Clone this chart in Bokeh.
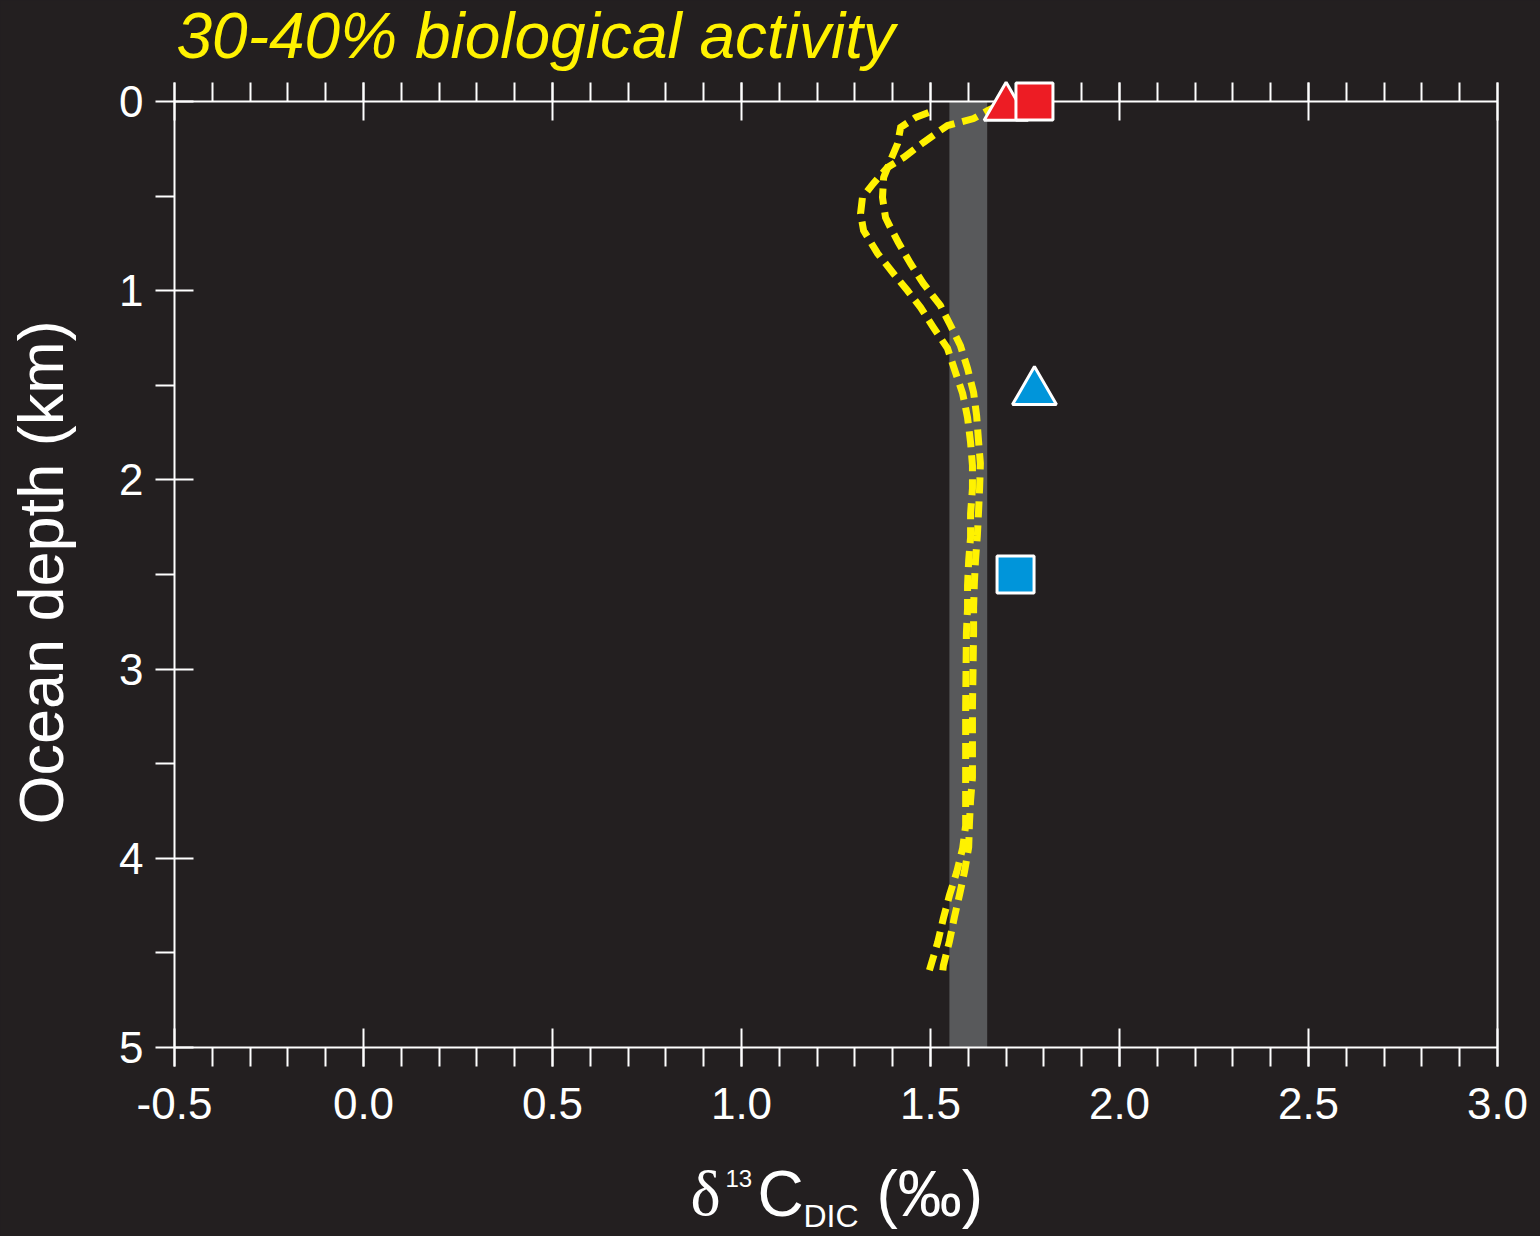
import math
from bokeh.plotting import figure
from bokeh.models import Range1d, LinearAxis, FixedTicker, NumeralTickFormatter, Label, Grid
from bokeh.embed import file_html
from bokeh.resources import INLINE

# ---------------- data ----------------
X_TICKS = [-0.5, 0.0, 0.5, 1.0, 1.5, 2.0, 2.5, 3.0]
X_MINOR = [round(-0.5 + 0.1 * i, 2) for i in range(36)]
Y_TICKS = [0, 1, 2, 3, 4, 5]
Y_MINOR = [0.5, 1.5, 2.5, 3.5, 4.5]
X_MIN, X_MAX = -0.5, 3.0
D_MIN, D_MAX = 0.0, 5.0

# observed range (grey band)
BAND_LEFT = [1.55]
BAND_RIGHT = [1.65]
BAND_TOP = [0.0]
BAND_BOTTOM = [5.0]

# model curve A (outer one)
CURVE_A_X = [1.68, 1.651, 1.614, 1.545, 1.526, 1.481, 1.429, 1.386, 1.349, 1.320, 1.315, 1.323,
             1.360, 1.402, 1.439, 1.474, 1.508, 1.545, 1.566, 1.585, 1.598, 1.606, 1.611, 1.611,
             1.606, 1.606, 1.601, 1.598, 1.598, 1.595, 1.593, 1.593, 1.593, 1.593, 1.585, 1.569,
             1.550, 1.534, 1.519, 1.497]
CURVE_A_DEPTH = [0.02, 0.048, 0.09, 0.127, 0.153, 0.217, 0.296, 0.349, 0.433, 0.507, 0.592, 0.682,
                 0.803, 0.909, 0.999, 1.089, 1.195, 1.305, 1.432, 1.543, 1.670, 1.802, 1.924, 2.045,
                 2.178, 2.304, 2.426, 2.558, 2.680, 2.807, 3.2, 3.457, 3.694, 3.827, 3.948, 4.075,
                 4.197, 4.318, 4.445, 4.593]

# model curve B (inner one)
CURVE_B_X = [1.495, 1.460, 1.421, 1.413, 1.394, 1.376, 1.373, 1.381, 1.394, 1.415, 1.447, 1.481,
             1.526, 1.553, 1.579, 1.598, 1.614, 1.622, 1.627, 1.632, 1.630, 1.627, 1.624, 1.619,
             1.616, 1.614, 1.614, 1.611, 1.611, 1.606, 1.603, 1.601, 1.590, 1.577, 1.563, 1.550,
             1.534, 1.532]
CURVE_B_DEPTH = [0.058, 0.085, 0.137, 0.222, 0.312, 0.402, 0.507, 0.613, 0.666, 0.745, 0.856, 0.962,
                 1.078, 1.184, 1.290, 1.411, 1.538, 1.660, 1.792, 1.913, 2.040, 2.172, 2.294, 2.426,
                 2.548, 2.674, 2.807, 3.2, 3.573, 3.694, 3.816, 3.943, 4.070, 4.191, 4.313, 4.440,
                 4.567, 4.604]

# measurements
TRI_X = [1.70, 1.775]
TRI_DEPTH = [0.032, 1.535]
TRI_COLOR = ["#ed1c24", "#0095da"]
SQ_X = [1.775, 1.725]
SQ_DEPTH = [0.0, 2.50]
SQ_COLOR = ["#ed1c24", "#0095da"]

BG = "#231f20"
WHITE = "#ffffff"
YELLOW = "#fff200"
FONT = "Liberation Sans"

# ---------------- layout (pixels) ----------------
W, H = 1540, 1236
PAD_L, PAD_R, PAD_T, PAD_B = 174, 43, 101, 189
PX_X = (W - PAD_L - PAD_R) / (X_MAX - X_MIN)
PX_D = (H - PAD_T - PAD_B) / (D_MAX - D_MIN)
BASE_SHIFT = 0.39   # label baseline correction, in em


def sx(px):
    """page pixel -> data x"""
    return X_MIN + (px - PAD_L) / PX_X


def sd(py):
    """page pixel -> depth"""
    return D_MIN + (py - PAD_T) / PX_D


p = figure(width=W, height=H, output_backend="svg", toolbar_location=None,
           x_range=Range1d(X_MIN - PAD_L / PX_X, X_MAX + PAD_R / PX_X),
           y_range=Range1d(D_MAX + PAD_B / PX_D, D_MIN - PAD_T / PX_D),
           x_axis_location=None, y_axis_location=None,
           min_border=0, min_border_left=0, min_border_right=0, min_border_top=0,
           min_border_bottom=0,
           background_fill_color=BG, border_fill_color=BG, outline_line_color=None)
for r in list(p.center):
    if isinstance(r, Grid):
        r.visible = False


def style_axis(ax, label_size="44px"):
    ax.axis_line_color = WHITE
    ax.axis_line_width = 2
    ax.major_tick_line_color = WHITE
    ax.major_tick_line_width = 2
    ax.minor_tick_line_color = WHITE
    ax.minor_tick_line_width = 2
    ax.major_tick_in = 19
    ax.major_tick_out = 19
    ax.minor_tick_in = 0
    ax.minor_tick_out = 19
    ax.major_label_text_color = WHITE
    ax.major_label_text_font = FONT
    ax.major_label_text_font_size = label_size


bottom = LinearAxis(ticker=FixedTicker(ticks=X_TICKS, minor_ticks=X_MINOR), fixed_location=D_MAX,
                    bounds=(X_MIN, X_MAX),
                    formatter=NumeralTickFormatter(format="0.0"), major_label_standoff=21)
style_axis(bottom)
p.add_layout(bottom, "below")

top = LinearAxis(ticker=FixedTicker(ticks=X_TICKS, minor_ticks=X_MINOR), fixed_location=D_MIN,
                 bounds=(X_MIN, X_MAX), major_label_standoff=0)
style_axis(top, "0px")
top.major_label_text_alpha = 0
p.add_layout(top, "above")

left = LinearAxis(ticker=FixedTicker(ticks=Y_TICKS, minor_ticks=Y_MINOR), fixed_location=X_MIN,
                  bounds=(D_MIN, D_MAX),
                  formatter=NumeralTickFormatter(format="0"), major_label_standoff=12)
style_axis(left)
p.add_layout(left, "left")

right = LinearAxis(ticker=FixedTicker(ticks=[], minor_ticks=[]), fixed_location=X_MAX,
                   bounds=(D_MIN, D_MAX))
style_axis(right, "0px")
right.major_label_text_alpha = 0
p.add_layout(right, "right")

# grey band
p.quad(left=BAND_LEFT, right=BAND_RIGHT, top=BAND_TOP, bottom=BAND_BOTTOM,
       fill_color="#58595b", line_color=None)

# dashed model curves
for xs, ds in ((CURVE_A_X, CURVE_A_DEPTH), (CURVE_B_X, CURVE_B_DEPTH)):
    p.line(xs, ds, line_color=YELLOW, line_width=7, line_dash="16 8", line_cap="butt",
           line_join="miter")

# markers
p.scatter(TRI_X, TRI_DEPTH, marker="triangle", size=44, fill_color=TRI_COLOR,
          line_color=WHITE, line_width=3, level="overlay")
p.scatter(SQ_X, SQ_DEPTH, marker="square", size=37, fill_color=SQ_COLOR,
          line_color=WHITE, line_width=3, level="overlay")


def add_text(txt, px, py, size, font=FONT, color=WHITE, style="normal", angle=0.0,
             align="left"):
    shift = BASE_SHIFT * size
    if angle:
        x, y = sx(px - shift), sd(py)
    else:
        x, y = sx(px), sd(py - shift)
    p.add_layout(Label(x=x, y=y, text=txt, text_color=color, text_font=font,
                       text_font_size=f"{size}px", text_font_style=style, angle=angle,
                       text_align=align, text_baseline="alphabetic"))


# title (left edge px, baseline px)
add_text("30-40% biological activity", 176, 60, 64, color=YELLOW, style="italic")

# y axis label (baseline x px, centre y px)
add_text("Ocean depth (km)", 65, 572, 63, angle=math.pi / 2, align="center")

# x axis label pieces (left edge px, baseline px)
add_text("\u03b4", 690, 1218, 64, font="Liberation Serif")
add_text("13", 725, 1187, 24)
add_text("C", 757, 1218, 64)
add_text("DIC", 803, 1228, 32)
add_text("(\u2030)", 876, 1218, 64)

html = file_html(p, INLINE)
html = html.replace(
    "</head>",
    "<style>html,body{background:#231f20;margin:0;padding:0;overflow:hidden;}</style></head>", 1)
open("out.html", "w").write(html)
